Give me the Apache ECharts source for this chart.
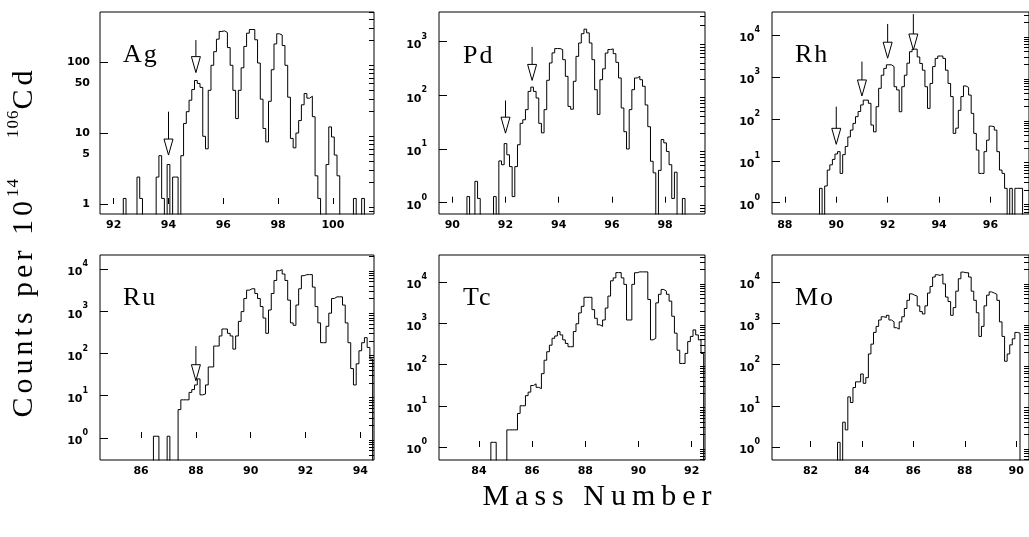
<!DOCTYPE html>
<html><head><meta charset="utf-8">
<script src="https://cdn.jsdelivr.net/npm/echarts@6/dist/echarts.min.js"></script>
<style>html,body{margin:0;padding:0;background:#fff}#c{width:1029px;height:537px}</style>
</head><body><div id="c"></div>
<script>
// ---- letter spacing helper for the wide serif titles (font family tag "lsN" => N px spacing)
(function(){
  var P = CanvasRenderingContext2D.prototype;
  if (!('letterSpacing' in P)) return;
  var re = /ls(\d+)/;
  ['fillText','strokeText','measureText'].forEach(function(name){
    var orig = P[name];
    P[name] = function(){
      var m = re.exec(this.font);
      if (!m) return orig.apply(this, arguments);
      this.save();
      this.letterSpacing = m[1] + 'px';
      try { return orig.apply(this, arguments); } finally { this.restore(); }
    };
  });
})();

// ---------------- DATA (counts per 0.1 mass-unit bin; first bin centre given) ----------------
const agStart = 92.0;
const agCounts = [0,0,0,0,1.2,0,0,0,0,2.4,
  1.2,0,0,0,0,0,2.4,4.8,1.2,0,
  3.6,0,2.4,2.4,0,4.8,13.6,20,29,41,
  55,50,44,9,6,40,90,140,210,270,
  275,260,160,90,40,16,40,83,166,255,
  287,287,206,97,30,11.6,7.5,28,78,180,
  250,240,171,90,32,8.4,6.2,10,15,25,
  36,31,33,17,2.5,1.2,0,0,3.6,12.2,
  8.8,4.9,2.5,0,0,0,0,0,1.2,0,
  0,1.2];
const pdStart = 90.0;
const pdCounts = [0,0,0,0,0,0,1.3,0,0,2.5,
  1.2,0,0,0,0,0,1.3,0,6.0,5.1,
  12.6,7.8,4.7,1.3,4.7,12,30,35,54,118,
  142,118,89,30,20,54,190,400,615,740,
  740,710,460,225,62,55,182,530,940,1400,
  1700,1450,940,460,127,44,195,310,610,710,
  730,595,410,210,58,21,10,54,127,210,
  225,195,147,66,26,5.9,3.6,0,4,15,
  13,9,5.1,1.2,3.7,0,0,1.2];
const rhStart = 89.3;
const rhCounts = [0,2.2,0,2.5,6,8,10.8,14.5,16.5,5,
  14,22,37,54,78,113,150,215,280,280,
  235,71,49,195,535,1100,1600,1950,1950,1770,
  585,490,148,585,1100,2130,4000,4600,4600,3000,
  2100,1450,585,178,700,1770,2770,3160,3160,2770,
  1450,700,340,45,60,160,340,610,560,370,
  135,45,18,5,5,16.5,31,67,65,54,
  16.5,6,5,2.2,0,2.2,0,2.2,2.2,2.2];
const ruStart = 86.5;
const ruCounts = [1.1,1.1,0,0,0,1.1,0,0,0,4.7,
  8,8,8,12,14,18,25,10.5,11,18,
  48,48,150,150,260,380,380,300,260,127,
  260,575,980,2000,3150,3400,3400,2630,2000,1290,
  690,300,1070,2630,5350,9100,9600,7600,5350,1830,
  530,465,1400,3400,6930,7360,7360,7360,3730,1290,
  530,180,180,440,900,2000,2190,2190,2190,1400,
  530,180,44,18,57,116,180,237,139,74];
const tcStart = 84.5;
const tcCounts = [1.3,1.3,0,0,0,0,2.6,2.6,2.6,2.6,
  6.5,10,10,17.6,21.4,31,34,28,26,60,
  127,204,294,432,492,630,522,396,324,270,
  270,630,972,1780,2570,4260,4260,4260,2140,1320,
  918,840,1200,2340,4560,10700,12600,16900,16900,12600,
  8760,1200,1200,8760,16800,17600,17600,17600,17600,3780,
  396,432,3120,5040,6600,6000,5040,3440,1480,576,
  222,106,106,186,360,480,690,522,396,186];
const moStart = 83.1;
const moCounts = [1.3,0,4,2.6,16.4,12,27.6,38,38,59,
  35,48,180,312,600,840,1200,1440,1380,1560,
  1200,1080,780,720,1080,1440,2280,3600,5160,4800,
  4560,2640,1920,1680,2640,5400,7800,13200,15000,14400,
  15600,9000,4320,3360,1560,2400,6000,12000,17400,16800,
  16800,13200,6000,3600,1800,480,840,2640,4800,5760,
  5400,5040,3600,1080,480,120,180,300,420,600,576];

// arrows: [mass, count at arrow tip, count at arrow tail]
const agArrows = [[94, 4.9, 20], [95, 71, 204]];
const pdArrows = [[92, 19.7, 80], [93, 189, 795]];
const rhArrows = [[90, 24.7, 195], [91, 352, 2330], [92, 2800, 18400], [93, 4400, 31600]];
const ruArrows = [[88, 22.7, 150]];

// tick labels
const agXTicks = [92, 94, 96, 98, 100];
const pdXTicks = [90, 92, 94, 96, 98];
const rhXTicks = [88, 90, 92, 94, 96];
const ruXTicks = [86, 88, 90, 92, 94];
const tcXTicks = [84, 86, 88, 90, 92];
const moXTicks = [82, 84, 86, 88, 90];
const agYLabels = [1, 5, 10, 50, 100];

const elementNames = ['Ag', 'Pd', 'Rh', 'Ru', 'Tc', 'Mo'];

// ---------------- LAYOUT / STYLE ----------------
const panels = [
  {name: elementNames[0], start: agStart, counts: agCounts, arrows: agArrows, xTicks: agXTicks, x: [91.5, 101.5], y: [-0.14, 2.705], plainY: agYLabels,
   grid: {left: 100, top: 12, width: 274, height: 202}, label: [123, 55]},
  {name: elementNames[1], start: pdStart, counts: pdCounts, arrows: pdArrows, xTicks: pdXTicks, x: [89.5, 99.5], y: [-0.21, 3.55],
   grid: {left: 439, top: 12, width: 266, height: 202}, label: [463, 56]},
  {name: elementNames[2], start: rhStart, counts: rhCounts, arrows: rhArrows, xTicks: rhXTicks, x: [87.5, 97.5], y: [-0.27, 4.55],
   grid: {left: 772, top: 12, width: 267, height: 202}, label: [795, 55]},
  {name: elementNames[3], start: ruStart, counts: ruCounts, arrows: ruArrows, xTicks: ruXTicks, x: [84.5, 94.5], y: [-0.521, 4.331],
   grid: {left: 100, top: 255, width: 274, height: 205}, label: [123, 298]},
  {name: elementNames[4], start: tcStart, counts: tcCounts, arrows: [], xTicks: tcXTicks, x: [82.5, 92.5], y: [-0.315, 4.655],
   grid: {left: 439, top: 255, width: 266, height: 205}, label: [463, 298]},
  {name: elementNames[5], start: moStart, counts: moCounts, arrows: [], xTicks: moXTicks, x: [80.5, 90.5], y: [-0.315, 4.655],
   grid: {left: 772, top: 255, width: 267, height: 205}, label: [795, 298]}
];

const FLOOR = -5;
const lg = v => v > 0 ? Math.log10(v) : FLOOR;
const TICKFONT = 'DejaVu Sans';
const SERIF_LABEL = '"Liberation Serif", ls2';

function histPoints(start, counts) {
  const e0 = start - 0.05;
  const pts = [[+e0.toFixed(3), FLOOR]];
  counts.forEach((c, i) => pts.push([+(e0 + i * 0.1).toFixed(3), lg(c)]));
  pts.push([+(e0 + counts.length * 0.1).toFixed(3), FLOOR]);
  return pts;
}
function decades(min, max) { const o = []; for (let n = Math.ceil(min); n <= Math.floor(max); n++) o.push(n); return o; }
function minors(min, max) {
  const o = [];
  for (let n = Math.floor(min) - 1; n <= Math.ceil(max); n++)
    for (let k = 2; k <= 9; k++) { const v = n + Math.log10(k); if (v >= min && v <= max) o.push(v); }
  return o;
}

const option = {animation: false, backgroundColor: '#fff', grid: [], xAxis: [], yAxis: [], series: [], graphic: []};

panels.forEach((p, i) => {
  option.grid.push(Object.assign({show: true, borderColor: '#000', borderWidth: 1, backgroundColor: 'transparent'}, p.grid));
  option.xAxis.push({
    gridIndex: i, type: 'value', min: p.x[0], max: p.x[1],
    axisLine: {show: false}, splitLine: {show: false},
    axisTick: {show: true, inside: true, length: 6, customValues: p.xTicks, lineStyle: {color: '#000'}},
    axisLabel: {customValues: p.xTicks, margin: 6, color: '#000', fontFamily: TICKFONT, fontWeight: 'bold', fontSize: 11}
  });
  const labelVals = p.plainY ? p.plainY.map(v => Math.log10(v)) : decades(p.y[0], p.y[1]);
  option.yAxis.push({
    gridIndex: i, type: 'value', min: p.y[0], max: p.y[1],
    axisLine: {show: false}, splitLine: {show: false},
    axisTick: {show: true, inside: true, length: 8, customValues: decades(p.y[0], p.y[1]), lineStyle: {color: '#000'}},
    axisLabel: {
      customValues: labelVals, margin: p.plainY ? 10 : 12, color: '#000', fontFamily: TICKFONT, fontWeight: 'bold', fontSize: 11,
      formatter: p.plainY ? (v => String(Math.round(Math.pow(10, v)))) : (v => '{b|10}{s|' + Math.round(v) + '}'),
      rich: {b: {fontFamily: TICKFONT, fontWeight: 'bold', fontSize: 11, lineHeight: 18, verticalAlign: 'bottom', color: '#000'},
             s: {fontFamily: TICKFONT, fontWeight: 'bold', fontSize: 8, lineHeight: 10, verticalAlign: 'top', color: '#000'}}
    }
  });
  option.yAxis.push({
    gridIndex: i, type: 'value', min: p.y[0], max: p.y[1],
    axisLine: {show: false}, splitLine: {show: false}, axisLabel: {show: false},
    axisTick: {show: true, inside: true, length: 5, customValues: minors(p.y[0], p.y[1]), lineStyle: {color: '#000'}}
  });
  option.series.push({
    type: 'line', xAxisIndex: i, yAxisIndex: 2 * i, step: 'end', showSymbol: false, symbol: 'none',
    clip: true, silent: true, lineStyle: {color: '#000', width: 1}, data: histPoints(p.start, p.counts)
  });
  if (p.arrows.length) {
    option.series.push({
      type: 'custom', xAxisIndex: i, yAxisIndex: 2 * i, silent: true, clip: false,
      data: p.arrows.map(a => [a[0], lg(a[1]), lg(a[2])]),
      renderItem: (params, api) => {
        const tip = api.coord([api.value(0), api.value(1)]);
        const tail = api.coord([api.value(0), api.value(2)]);
        const hh = 16, hw = 4.5;
        return {type: 'group', children: [
          {type: 'line', shape: {x1: tail[0], y1: tail[1], x2: tip[0], y2: tip[1] - hh}, style: {stroke: '#000', lineWidth: 1}},
          {type: 'polygon', shape: {points: [[tip[0] - hw, tip[1] - hh], [tip[0] + hw, tip[1] - hh], [tip[0], tip[1]]]},
           style: {fill: '#fff', stroke: '#000', lineWidth: 1}}
        ]};
      }
    });
  }
  option.graphic.push({type: 'text', x: p.label[0], y: p.label[1], silent: true,
    style: {text: p.name, fill: '#000', fontFamily: SERIF_LABEL, fontSize: 26, align: 'left', verticalAlign: 'middle'}});
});

option.graphic.push({type: 'text', x: 23, y: 242, rotation: Math.PI / 2, silent: true,
  style: {text: '{m|Counts per 10}{s|14}{g| }{s|106}{m|Cd}', align: 'center', verticalAlign: 'middle', fill: '#000',
    rich: {m: {fontFamily: '"Liberation Serif", ls4', fontSize: 30, lineHeight: 36, verticalAlign: 'bottom', fill: '#000'},
           s: {fontFamily: '"Liberation Serif", ls1', fontSize: 17, lineHeight: 20, verticalAlign: 'top', fill: '#000'},
           g: {fontFamily: '"Liberation Serif"', fontSize: 17, width: 40, lineHeight: 20}}}});
option.graphic.push({type: 'text', x: 600, y: 497, silent: true,
  style: {text: 'Mass Number', align: 'center', verticalAlign: 'middle', fill: '#000',
    fontFamily: '"Liberation Serif", ls6', fontSize: 30}});

const chart = echarts.init(document.getElementById('c'), null, {renderer: 'canvas', width: 1029, height: 537});
chart.setOption(option);
</script>
</body></html>
